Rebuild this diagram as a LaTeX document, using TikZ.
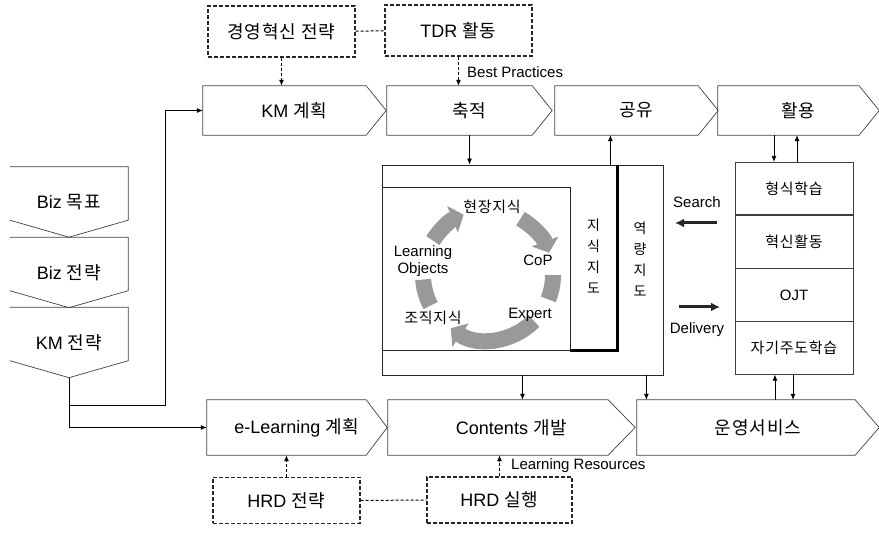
\documentclass[tikz,border=0pt]{standalone}
\usepackage{fontspec}
\setmainfont{Liberation Sans}
\newfontfamily\kr[LetterSpace=5]{Noto Sans CJK KR}
\usetikzlibrary{positioning,arrows.meta}

% outline of a stage node pointing east, and of a goal node pointing south (left side open)
\newcommand{\stageline}[2]{\draw[outline] (#1.north west) -- ([xshift=-#2]#1.north east) -- (#1.east) -- ([xshift=-#2]#1.south east) -- (#1.south west) -- cycle;}
\newcommand{\goalline}[2]{\draw[outline] (#1.north west) -- (#1.north east) -- ([yshift=#2]#1.south east) -- (#1.south) -- ([yshift=#2]#1.south west);}

\begin{document}
\begin{tikzpicture}[x=1pt,y=-1pt,
 outline/.style={draw=black!75,line width=0.7pt},
 stage/.style={inner sep=0pt,font=\fontsize{18}{21}\selectfont},
 goal/.style={stage,minimum width=118pt,minimum height=70pt},
 plan/.style={draw=black!85,line width=1.2pt,dash pattern=on 4pt off 2pt,minimum width=147pt,inner sep=0pt,font=\fontsize{18}{21}\selectfont},
 cell/.style={draw=black!75,line width=0.7pt,minimum width=118pt,minimum height=52.5pt,inner sep=0pt,font=\fontsize{15}{18}\selectfont},
 frame/.style={draw=black!85,line width=0.8pt,inner sep=0pt},
 lbl/.style={font=\fontsize{15}{18}\selectfont,inner sep=1pt},
 cyclbl/.style={font=\fontsize{15}{17}\selectfont,align=center,inner sep=1pt},
 vlbl/.style={font=\kr\fontsize{14}{21}\selectfont,align=center,inner sep=1pt},
 arr/.style={-{Latex[length=6pt,width=5pt]},line width=0.8pt},
 darr/.style={arr,line width=1pt,dash pattern=on 3pt off 2pt},
 link/.style={line width=1pt,dash pattern=on 3pt off 2pt},
 fat/.style={-{Latex[length=9pt,width=9pt]},line width=3pt,black!85},
 seg/.style={line width=16pt,draw=black!40}]
\useasboundingbox (0,0) rectangle (879,534);

% strategy boxes
\node[plan,minimum height=51pt] (inno) at (281.5,31.5) {{\kr 경영혁신 전략}};
\node[plan,minimum height=51pt] (tdr) at (458.5,30.5) {TDR {\kr 활동}};
\node[plan,minimum height=46pt] (hrdstr) at (286.5,500.5) {HRD {\kr 전략}};
\node[plan,minimum height=46pt,minimum width=145pt] (hrdrun) at (499.5,500) {HRD {\kr 실행}};
\draw[link] (inno) -- (tdr);
\draw[link] (hrdstr) -- (hrdrun);

% KM / e-Learning stages
\node[stage,minimum width=183pt,minimum height=49pt] (kmplan) at (294.5,110.5) {KM {\kr 계획}};
\node[stage,minimum width=165pt,minimum height=49pt] (acc) at (469.5,110.5) {{\kr 축적}};
\node[stage,minimum width=163pt,minimum height=49pt] (share) at (636.5,110.5) {{\kr 공유}};
\node[stage,minimum width=161pt,minimum height=49pt] (use) at (798.5,110.5) {{\kr 활용}};
\node[stage,minimum width=180pt,minimum height=55pt] (elplan) at (297,427.5) {e-Learning {\kr 계획}};
\node[stage,minimum width=247pt,minimum height=55pt] (contents) at (511.5,427.5) {Contents {\kr 개발}};
\node[stage,minimum width=242pt,minimum height=55pt] (ops) at (758,427.5) {{\kr 운영서비스}};
\foreach \n in {kmplan,acc,share,use} {\stageline{\n}{20pt}}
\stageline{elplan}{21pt}
\stageline{contents}{27pt}
\stageline{ops}{24pt}

\draw[darr] (inno.south) -- (inno.south |- kmplan.north);
\draw[darr] (tdr.south) -- (tdr.south |- acc.north);
\node[lbl,anchor=west] (bestp) at (466,72) {Best Practices};
\draw[darr] (hrdstr.north) -- (hrdstr.north |- elplan.south);
\draw[darr] (hrdrun.north) -- (hrdrun.north |- contents.south);
\node[lbl,anchor=west] (lres) at (510,466) {Learning Resources};

% business goals
\node[goal] (bizgoal) at (69,202) {Biz {\kr 목표}};
\node[goal] (bizstr) at (69,272.5) {Biz {\kr 전략}};
\node[goal] (kmstr) at (69,342.5) {KM {\kr 전략}};
\foreach \n in {bizgoal,bizstr,kmstr} {\goalline{\n}{17pt}}
\coordinate (split) at ([yshift=-28pt]kmstr.south);
\coordinate (bend) at ([xshift=96pt]split);
\draw[arr] (kmstr.south) |- (elplan.west);
\draw[arr] (split) -- (bend) |- (kmplan.west);

% knowledge maps
\node[frame,minimum width=281pt,minimum height=210pt] (core) at (522.5,270) {};
\node[frame,minimum width=235pt,minimum height=185pt] (kmap) at (499.5,257.5) {};
\node[frame,minimum width=188pt,minimum height=163pt] (cyc) at (476,268.5) {};
\draw[line width=2.4pt] (kmap.north east) -- (kmap.south east) -- (cyc.south east);
\node[vlbl] (kmaptxt) at (593.5,256) {지\\식\\지\\도};
\node[vlbl] (capmap) at (640,259) {역\\량\\지\\도};

% knowledge cycle
\coordinate (hub) at (488,275);
\foreach \a/\b in {148/112,60/20,-45/-125}
  \draw[seg,-{Triangle[width=28pt,length=12pt]}] ([shift={(\a:65pt)}]hub) arc[start angle=\a,end angle=\b,radius=65pt];
\foreach \a/\b in {0/-22,-152/-176}
  \draw[seg] ([shift={(\a:65pt)}]hub) arc[start angle=\a,end angle=\b,radius=65pt];
\node[cyclbl] (field) at (492,207) {{\kr 현장지식}};
\node[cyclbl] (lo) at (423,261) {Learning\\Objects};
\node[cyclbl] (cop) at (538,260) {CoP};
\node[cyclbl] (expert) at (530,315) {Expert};
\node[cyclbl] (org) at (433,318) {{\kr 조직지식}};

\draw[arr] (acc.south) -- (acc.south |- core.north);
\coordinate (upc) at ([xshift=-7pt]kmap.north east);
\draw[arr] (upc) -- (upc |- share.south);
\draw[arr] (core.south) -- (core.south |- contents.north);
\coordinate (dnc) at ([xshift=-17pt]core.south east);
\draw[arr] (dnc) -- (dnc |- ops.north);

% learning channels
\node[cell] (formal) at (794,188.5) {{\kr 형식학습}};
\node[cell,below=0pt of formal] (innov) {{\kr 혁신활동}};
\node[cell,below=0pt of innov] (ojt) {OJT};
\node[cell,below=0pt of ojt] (self) {{\kr 자기주도학습}};
\coordinate (dn1) at ([xshift=-20pt]formal.north);
\coordinate (up1) at ([xshift=3pt]formal.north);
\draw[arr] (dn1 |- use.south) -- (dn1);
\draw[arr] (up1) -- (up1 |- use.south);
\coordinate (up2) at ([xshift=-19pt]self.south);
\coordinate (dn2) at ([xshift=-1pt]self.south);
\draw[arr] (up2 |- ops.north) -- (up2);
\draw[arr] (dn2) -- (dn2 |- ops.north);

\node[lbl] (search) at (697,202) {Search};
\node[lbl] (deliv) at (697,330) {Delivery};
\coordinate (s1) at (717,223);
\coordinate (s2) at (675,223);
\draw[fat] (s1) -- (s2);
\coordinate (d1) at (679,307);
\coordinate (d2) at (720,307);
\draw[fat] (d1) -- (d2);
\end{tikzpicture}
\end{document}
